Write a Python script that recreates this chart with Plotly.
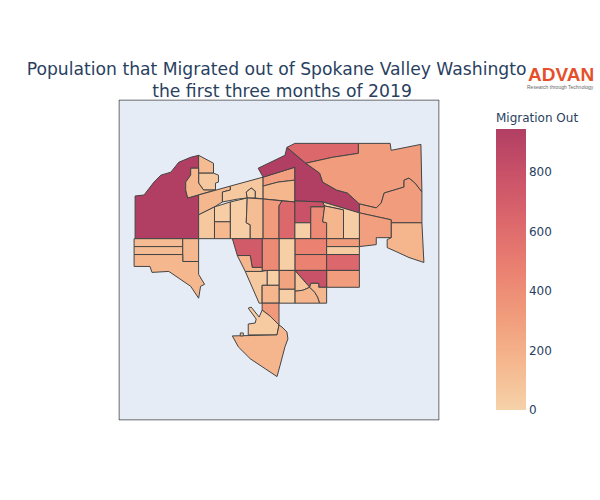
import plotly.graph_objects as go

# census tracts, outlines are traced in map units (0.001 deg)
# kept near the equator so mercator does not stretch the tracing
WEST = -117.5
NORTH = 0.3
DEG = 0.001

TRACT_IDS = [
    "nw", "nw_top", "nw_mid", "nw_edge", "strip_w", "strip_c", "strip_notch",
    "north_a", "north_b", "col_a", "col_b", "col_c", "col_d", "col_e", "col_f",
    "col_g", "centre_n", "north_tip", "ne_big", "east_mid", "east_s", "east_w",
    "centre_red", "centre_pale", "centre_box", "pale_strip", "box_orange",
    "row_a", "row_b", "row_c", "row_d", "row_e", "row_f", "dark_s", "tri_s",
    "low_a", "low_b", "mid_a", "mid_b", "mid_c", "mid_d", "mid_e", "mid_f",
    "mid_g", "mid_h", "sw_red", "sw_under", "south_a", "south_b", "south_c",
    "west_a", "west_b", "west_c", "west_d",
]

MIGRATION_OUT = [
    945, 130, 60, 157, 157, 60, 40,
    300, 157, 60, 30, 150, 30, 120, 320,
    630, 945, 630, 315, 315, 170, 300,
    790, 20, 420, 30, 170,
    472, 472, 315, 40, 640, 315, 790, 80,
    170, 157, 20, 270, 20, 420, 20, 60,
    170, 330, 720, 170, 40, 170, 30,
    130, 130, 157, 160,
]

TRACT_OUTLINES = [
    [(134, 196), (143, 195), (153, 182), (160, 175), (170, 172), (178, 162), (190, 157), (198, 155),
     (198, 168), (190, 168), (190, 175), (185, 182), (185, 190), (187, 198), (198, 195), (198, 239), (134, 239)],
    [(198, 155), (213, 163), (213, 173), (198, 173)],
    [(198, 173), (213, 173), (218, 175), (218, 182), (215, 183), (215, 190), (203, 190), (198, 183)],
    [(190, 168), (198, 168), (198, 183), (203, 190), (215, 190), (187, 198), (185, 190), (185, 182), (190, 175)],
    [(198, 195), (230, 186), (230, 190), (222, 192), (222, 202), (214, 207), (198, 215)],
    [(230, 186), (263, 177), (263, 199), (255, 198), (255, 191), (251, 188), (246, 192), (247, 198),
     (238, 199), (222, 202), (222, 192), (230, 190)],
    [(246, 192), (251, 188), (255, 191), (255, 198), (247, 198)],
    [(263, 177), (295, 167), (295, 180), (278, 182), (263, 186)],
    [(263, 186), (278, 182), (295, 180), (295, 202), (275, 200), (263, 199)],
    [(198, 215), (214, 207), (214, 239), (198, 239)],
    [(214, 207), (230, 202), (230, 222), (214, 222)],
    [(214, 222), (230, 222), (230, 239), (214, 239)],
    [(230, 202), (247, 198), (246, 223), (250, 225), (250, 239), (230, 239)],
    [(247, 198), (263, 199), (263, 239), (250, 239), (250, 225), (246, 223)],
    [(263, 199), (282, 201), (279, 206), (279, 239), (263, 239)],
    [(282, 201), (295, 202), (295, 239), (279, 239), (279, 206)],
    [(258, 168), (285, 155), (287, 147), (306, 163), (320, 173), (323, 182), (337, 190), (348, 193),
     (360, 204), (360, 213), (323, 202), (295, 201), (295, 167), (263, 177)],
    [(287, 147), (295, 143), (359, 143), (359, 153), (333, 157), (306, 163)],
    [(359, 143), (391, 143), (392, 150), (422, 144), (423, 192), (416, 183), (410, 178), (405, 180), (405, 187),
     (385, 193), (382, 203), (377, 208), (360, 204), (348, 193), (337, 190), (323, 182), (320, 173), (306, 163),
     (333, 157), (359, 153)],
    [(360, 204), (377, 208), (382, 203), (385, 193), (405, 187), (405, 180), (410, 178), (416, 183), (423, 192),
     (423, 223), (392, 223), (392, 220), (360, 213)],
    [(392, 223), (423, 223), (425, 263), (410, 258), (397, 252), (388, 248), (388, 240), (392, 238)],
    [(360, 213), (392, 220), (392, 238), (377, 238), (377, 245), (360, 247)],
    [(295, 201), (323, 202), (325, 207), (311, 207), (311, 223), (295, 223)],
    [(295, 223), (311, 223), (311, 239), (295, 239)],
    [(311, 207), (325, 207), (323, 222), (327, 223), (327, 239), (311, 239)],
    [(323, 202), (360, 213), (360, 239), (344, 239), (344, 210), (325, 206)],
    [(325, 206), (344, 210), (344, 239), (327, 239), (327, 223), (323, 222)],
    [(295, 239), (327, 239), (327, 255), (295, 255)],
    [(295, 255), (327, 255), (327, 271), (295, 271)],
    [(327, 239), (360, 239), (360, 247), (327, 247)],
    [(327, 247), (360, 247), (360, 255), (327, 255)],
    [(327, 255), (360, 255), (360, 271), (327, 271)],
    [(327, 271), (360, 271), (360, 288), (327, 288)],
    [(295, 271), (327, 271), (327, 288), (319, 288), (319, 284), (311, 284), (310, 288)],
    [(295, 271), (310, 288), (303, 291), (295, 292)],
    [(295, 292), (303, 291), (310, 288), (315, 293), (318, 298), (320, 304), (295, 304)],
    [(310, 288), (311, 284), (319, 284), (319, 288), (327, 288), (327, 304), (320, 304), (318, 298), (315, 293)],
    [(279, 239), (295, 239), (295, 271), (279, 271)],
    [(279, 271), (295, 271), (295, 290), (279, 290)],
    [(279, 290), (295, 290), (295, 304), (279, 304)],
    [(262, 239), (279, 239), (279, 271), (262, 271)],
    [(267, 271), (279, 271), (279, 286), (267, 286)],
    [(245, 272), (262, 272), (267, 271), (267, 286), (262, 286), (262, 304), (259, 304)],
    [(262, 286), (279, 286), (279, 304), (262, 304)],
    [(262, 304), (279, 304), (279, 326), (270, 317), (262, 311)],
    [(232, 239), (262, 239), (262, 268), (252, 268), (250, 256), (237, 256)],
    [(237, 256), (250, 256), (252, 268), (262, 268), (262, 272), (245, 272)],
    [(262, 311), (270, 317), (279, 326), (277, 336), (248, 336), (248, 325), (255, 324), (256, 320),
     (248, 309), (251, 308), (259, 318)],
    [(232, 337), (277, 336), (279, 326), (282, 328), (287, 333), (288, 340), (285, 348), (280, 367), (277, 378),
     (250, 360), (238, 348)],
    [(240, 337), (240, 334), (243, 334), (243, 337)],
    [(133, 239), (182, 239), (182, 247), (133, 247)],
    [(133, 247), (182, 247), (182, 255), (133, 255)],
    [(182, 239), (198, 239), (198, 262), (182, 262)],
    [(133, 255), (182, 255), (182, 262), (198, 262), (198, 275), (204, 285), (200, 287), (198, 299),
     (190, 287), (168, 272), (151, 273), (149, 267), (133, 267)],
]

# Redor colors sampled at equal steps
REDOR = ["#F6D2A9", "#F5B78E", "#F19C7C", "#EA8171", "#DD686C", "#CA5268", "#B13F64"]

# geo always asks for a base map, even hidden, and there is no network here
EMPTY_TOPOJSON = 'data:application/json,{"type":"Topology","objects":{},"arcs":[]}#'


def to_feature(tract_id, outline):
    ring = [[round(WEST + x * DEG, 4), round(NORTH - y * DEG, 4)] for x, y in outline]
    ring.append(ring[0])
    # d3 wants outer rings clockwise
    area = sum(a[0] * b[1] - b[0] * a[1] for a, b in zip(ring, ring[1:]))
    if area > 0:
        ring.reverse()
    return {
        "type": "Feature",
        "id": tract_id,
        "properties": {},
        "geometry": {"type": "Polygon", "coordinates": [ring]},
    }


geojson = {
    "type": "FeatureCollection",
    "features": [to_feature(t, o) for t, o in zip(TRACT_IDS, TRACT_OUTLINES)],
}

fig = go.Figure()

fig.add_trace(
    go.Choropleth(
        geojson=geojson,
        locations=TRACT_IDS,
        z=MIGRATION_OUT,
        zmin=0,
        zmax=945,
        colorscale=REDOR,
        marker=dict(line=dict(color="#444", width=1)),
        colorbar=dict(title=dict(text="Migration Out", font=dict(size=12))),
    )
)

fig.update_geos(
    projection_type="mercator",
    fitbounds="locations",
    visible=False,
    showframe=True,
    framecolor="#444",
    framewidth=1,
    bgcolor="#E5ECF6",
    showland=False,
    showlakes=False,
    showocean=False,
    showrivers=False,
    showcountries=False,
    showcoastlines=False,
    showsubunits=False,
)

fig.update_layout(
    width=600,
    height=500,
    font=dict(family="DejaVu Sans"),
    title=dict(
        text="Population that Migrated out of Spokane Valley Washington<br>the first three months of 2019",
        font=dict(size=17.2),
        x=0.47,
        y=0.85,
        xanchor="center",
    ),
    annotations=[
        dict(
            text="<b>ADVAN</b>",
            xref="paper",
            yref="paper",
            x=1.208,
            y=1.08,
            xanchor="center",
            yanchor="middle",
            showarrow=False,
            font=dict(family="Liberation Sans", size=19, color="#E5502B"),
            bgcolor="white",
            borderpad=1,
        ),
        dict(
            text="Research through Technology",
            xref="paper",
            yref="paper",
            x=1.208,
            y=1.04,
            xanchor="center",
            yanchor="middle",
            showarrow=False,
            font=dict(family="Liberation Sans", size=5, color="#666"),
        ),
    ],
)

# the figure is 600x500, the browser's default body margin would push it off the window
fig.write_html(
    "out.html",
    config={"topojsonURL": EMPTY_TOPOJSON, "displayModeBar": False},
    post_script="document.body.style.margin = '0';",
)
